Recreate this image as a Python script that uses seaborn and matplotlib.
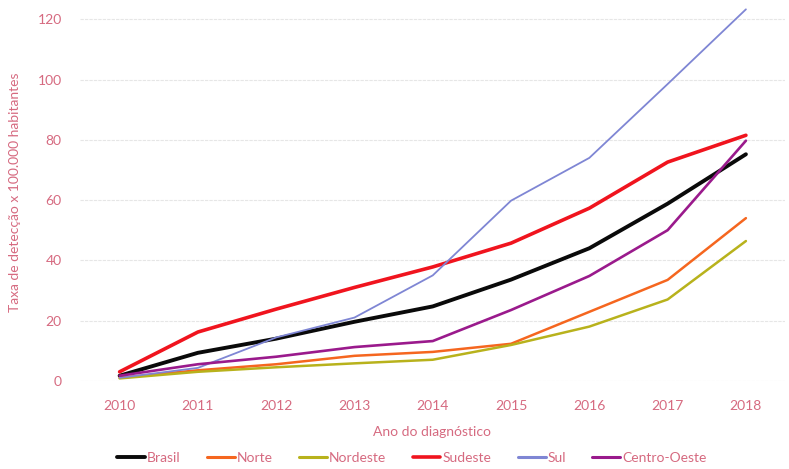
import pandas as pd
import matplotlib.pyplot as plt
import seaborn as sns

# Taxa de detecção por região (leitura aproximada do gráfico)
anos = [2010, 2011, 2012, 2013, 2014, 2015, 2016, 2017, 2018]
brasil = [1.7, 9.3, 14.0, 19.6, 24.7, 33.6, 44.0, 58.8, 75.2]
norte = [1.0, 3.5, 5.5, 8.3, 9.6, 12.3, 22.9, 33.5, 54.0]
nordeste = [0.8, 3.0, 4.5, 5.8, 7.0, 11.9, 18.0, 27.0, 46.4]
sudeste = [3.0, 16.2, 23.8, 31.0, 37.8, 45.7, 57.3, 72.6, 81.5]
sul = [1.0, 4.3, 14.4, 21.0, 35.0, 59.8, 74.0, 98.5, 123.3]
centro_oeste = [1.7, 5.5, 8.0, 11.2, 13.2, 23.5, 34.8, 50.0, 79.7]

regioes = ['Brasil', 'Norte', 'Nordeste', 'Sudeste', 'Sul', 'Centro-Oeste']
cores = ['#0a0a0a', '#f5661f', '#b8b21c', '#f0141e', '#7f86d4', '#9a1a8c']
larguras = [2.8, 1.8, 1.8, 2.6, 1.3, 1.9]

TEXT = '#d66a80'

df = pd.DataFrame({'ano': anos * 6,
                   'taxa': brasil + norte + nordeste + sudeste + sul + centro_oeste,
                   'regiao': [r for r in regioes for _ in anos]})

sns.set_style('white')
plt.rcParams['font.family'] = ['Lato', 'DejaVu Sans']

fig = plt.figure(figsize=(7.89, 4.69), dpi=100)
ax = fig.add_axes([0.101, 0.188, 0.894, 0.803])

for y in [0, 20, 40, 60, 80, 100, 120]:
    ax.axhline(y, color='#e6e6e6', lw=0.8, ls=(0, (3, 1)), zorder=0)

sns.lineplot(data=df, x='ano', y='taxa', hue='regiao', hue_order=regioes,
             palette=dict(zip(regioes, cores)), size='regiao', size_order=regioes,
             sizes=dict(zip(regioes, larguras)), ax=ax, legend=False, clip_on=False)

ax.set_xlim(2009.49, 2018.5)
ax.set_ylim(0, 125)
ax.set_xticks(anos)
ax.set_yticks([0, 20, 40, 60, 80, 100, 120])
ax.tick_params(colors=TEXT, labelsize=10, length=0)
ax.tick_params(axis='x', pad=14)
ax.tick_params(axis='y', pad=13)
for s in ax.spines.values():
    s.set_visible(False)

ax.set_xlabel('Ano do diagnóstico', color=TEXT, fontsize=10, labelpad=10)
ax.set_ylabel('Taxa de detecção x 100.000 habitantes', color=TEXT, fontsize=10, labelpad=12)

handles = [plt.Line2D([], [], color=c, lw=max(w, 2.2)) for c, w in zip(cores, larguras)]
leg = fig.legend(handles, regioes, loc='center', bbox_to_anchor=(0.522, 0.023), ncol=6,
                 frameon=False, fontsize=10, handlelength=2.0, handletextpad=0.15,
                 columnspacing=1.9)
for t in leg.get_texts():
    t.set_color(TEXT)

fig.savefig('out.png', dpi=100)
